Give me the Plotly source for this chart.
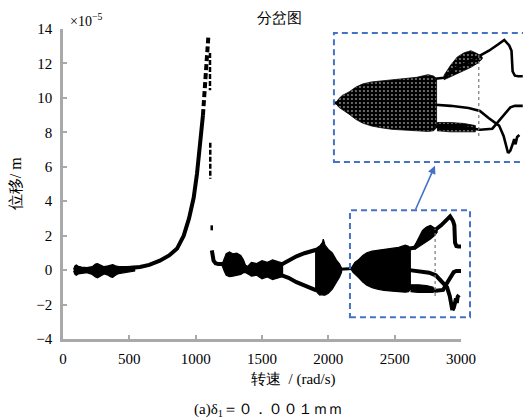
import plotly.graph_objects as go

# ---------------- data: rotor speed (rad/s) vs displacement (x1e-5 m) ----------------
# primary resonance branch (sweep up to the jump)
RES_OMEGA = [90, 200, 300, 400, 500, 580, 650, 730, 800, 860, 910, 950, 985, 1010, 1035, 1055]
RES_DISP = [0.0, 0.02, 0.05, 0.08, 0.12, 0.18, 0.3, 0.55, 0.85, 1.25, 2.0, 3.0, 4.2, 5.6, 7.3, 9.0]
PEAK_OMEGA = [1055, 1070, 1082, 1090, 1095]
PEAK_DISP = [9.0, 10.5, 12.0, 13.0, 13.5]

# scattered points left by the jump-down
JUMP_OMEGA = [1108, 1110, 1121]
JUMP_TOP = [12.6, 7.4, 2.6]
JUMP_BOTTOM = [10.45, 5.3, 2.2]

# low-speed band (sub-harmonic spread)
LOW_OMEGA = [80, 90, 100, 115, 140, 180, 220, 245, 260, 280, 310, 340, 360, 375, 395, 420, 470, 540]
LOW_UP = [0.05, 0.25, 0.3, 0.22, 0.18, 0.15, 0.2, 0.35, 0.38, 0.3, 0.2, 0.25, 0.3, 0.32, 0.25, 0.2, 0.2, 0.22]
LOW_LO = [-0.05, -0.25, -0.3, -0.22, -0.18, -0.15, -0.25, -0.4, -0.45, -0.35, -0.22, -0.3, -0.4, -0.42, -0.3, -0.2, -0.12, -0.05]

# branch after the jump
DROP_OMEGA = [1122, 1126, 1135, 1150, 1170, 1205]
DROP_DISP = [1.15, 0.8, 0.55, 0.4, 0.35, 0.35]

BUBBLE_OMEGA = [1200, 1215, 1230, 1255, 1280, 1310, 1340, 1360, 1375, 1392]
BUBBLE_UP = [0.35, 0.7, 0.95, 1.05, 0.95, 0.98, 0.85, 0.6, 0.3, 0.2]
BUBBLE_LO = [0.25, -0.05, -0.3, -0.38, -0.35, -0.32, -0.25, -0.15, -0.15, -0.2]

NECK_OMEGA = [1390, 1420, 1460, 1500, 1540, 1580, 1620, 1655]
NECK_UP = [0.2, 0.45, 0.38, 0.55, 0.45, 0.6, 0.5, 0.42]
NECK_LO = [-0.2, -0.35, -0.3, -0.5, -0.4, -0.55, -0.45, -0.38]

# period-2 window
P2_OMEGA = [1640, 1700, 1760, 1820, 1870, 1910]
P2_UPPER = [0.3, 0.55, 0.8, 0.98, 1.12, 1.18]
P2_LOWER = [-0.28, -0.45, -0.7, -0.9, -1.05, -1.18]

CHAOS_OMEGA = [1900, 1915, 1935, 1955, 1962, 1975, 2000, 2030, 2060, 2085, 2100]
CHAOS_UP = [1.15, 1.3, 1.4, 1.6, 1.8, 1.45, 1.2, 1.0, 0.6, 0.35, 0.12]
CHAOS_LO = [-1.1, -1.3, -1.45, -1.42, -1.45, -1.45, -1.35, -1.1, -0.75, -0.4, -0.12]

LINK_OMEGA = [2090, 2185]
LINK_DISP = [0.05, 0.1]

# high-speed chaotic region
BULB_OMEGA = [2172, 2185, 2200, 2230, 2260, 2290, 2330, 2370, 2420, 2480, 2530, 2580, 2605, 2618]
BULB_UP = [0.1, 0.3, 0.45, 0.62, 0.85, 1.0, 1.1, 1.15, 1.2, 1.27, 1.32, 1.45, 1.38, 1.25]
BULB_LO = [0.05, -0.12, -0.25, -0.45, -0.7, -0.88, -1.02, -1.1, -1.18, -1.22, -1.25, -1.28, -1.25, -1.1]

UB_OMEGA = [2612, 2650, 2700, 2760, 2800, 2850, 2890, 2918, 2940, 2950, 2955, 2965, 2980, 3000]
UB_DISP = [1.25, 1.3, 1.75, 2.05, 2.3, 2.6, 2.9, 3.12, 2.85, 2.6, 1.6, 1.4, 1.37, 1.37]
UC_OMEGA = [2650, 2680, 2710, 2740, 2770, 2800, 2820]
UC_UP = [1.4, 1.9, 2.3, 2.5, 2.6, 2.45, 2.3]
UC_LO = [1.2, 1.35, 1.5, 1.65, 1.8, 2.0, 2.2]

MB_OMEGA = [2612, 2680, 2760, 2810, 2850, 2895, 2915, 2928, 2935]
MB_DISP = [0.0, -0.05, -0.15, -0.3, -0.65, -1.0, -1.5, -2.0, -2.33]
LB_OMEGA = [2612, 2700, 2760, 2810, 2865, 2895, 2925, 2945, 2965, 3000]
LB_DISP = [-1.05, -1.05, -1.1, -1.2, -1.15, -0.75, -0.4, -0.12, -0.05, -0.05]
LC_OMEGA = [2620, 2680, 2740, 2790]
LC_UP = [-0.85, -0.85, -0.9, -1.0]
LC_LO = [-1.25, -1.3, -1.3, -1.3]
BL_OMEGA = [2935, 2945, 2955, 2962, 2968, 2975, 2985]
BL_DISP = [-2.33, -2.2, -1.9, -1.65, -1.9, -1.55, -1.45]

COL_OMEGA = 2805
COL_RANGE = [-1.5, 2.4]

# magnified window
ZOOM_OMEGA = [2163, 3068]
ZOOM_DISP = [-2.73, 3.48]

X_TICKS = [0, 500, 1000, 1500, 2000, 2500, 3000]
Y_TICKS = [-4, -2, 0, 2, 4, 6, 8, 10, 12, 14]

BLUE = "#4472C4"
AXIS_GREY = "#a9a9a9"
SERIF = "Times New Roman"

X_DOMAIN = [0, 0.8652]
X_RANGE = [0, 3000]
Y_RANGE = [-4, 14]
INSET_X_DOMAIN = [0.589, 1.0]
INSET_Y_DOMAIN = [0.571, 0.987]
INSET_X_RANGE = [2163, 3001]
INSET_Y_RANGE = [-2.75, 3.45]


def band(omega, up, lo):
    return list(omega) + list(omega[::-1]), list(up) + list(lo[::-1])


def to_paper(w, v):
    px = X_DOMAIN[0] + (w - X_RANGE[0]) / (X_RANGE[1] - X_RANGE[0]) * (X_DOMAIN[1] - X_DOMAIN[0])
    py = (v - Y_RANGE[0]) / (Y_RANGE[1] - Y_RANGE[0])
    return px, py


fig = go.Figure()


def add_diagram(xa, ya, inset):
    lw = 2.6 if inset else 4

    def add_band(omega, up, lo):
        xs, ys = band(omega, up, lo)
        kw = dict(x=xs, y=ys, xaxis=xa, yaxis=ya, mode="lines", fill="toself",
                  line=dict(color="black", width=0.8 if inset else 1.2),
                  hoverinfo="skip", showlegend=False)
        if inset:
            kw["fillcolor"] = "black"
            kw["fillpattern"] = dict(shape=".", fgcolor="white", bgcolor="black",
                                     size=4, solidity=0.22)
        else:
            kw["fillcolor"] = "black"
        fig.add_trace(go.Scatter(**kw))

    def add_line(omega, disp, width=lw, dash="solid", color="black"):
        fig.add_trace(go.Scatter(x=omega, y=disp, xaxis=xa, yaxis=ya, mode="lines",
                                 line=dict(color=color, width=width, dash=dash),
                                 hoverinfo="skip", showlegend=False))

    if not inset:
        add_band(LOW_OMEGA, LOW_UP, LOW_LO)
        add_line(RES_OMEGA, RES_DISP)
        add_line(PEAK_OMEGA, PEAK_DISP, dash="6px,3px")
        jx, jy = [], []
        for w, t, b in zip(JUMP_OMEGA, JUMP_TOP, JUMP_BOTTOM):
            jx += [w, w, None]
            jy += [t, b, None]
        add_line(jx, jy, width=2.5, dash="5px,2px")
        add_line(DROP_OMEGA, DROP_DISP)
        add_band(BUBBLE_OMEGA, BUBBLE_UP, BUBBLE_LO)
        add_band(NECK_OMEGA, NECK_UP, NECK_LO)
        add_line(P2_OMEGA, P2_UPPER)
        add_line(P2_OMEGA, P2_LOWER)
        add_band(CHAOS_OMEGA, CHAOS_UP, CHAOS_LO)
        add_line(LINK_OMEGA, LINK_DISP, width=3)

    add_band(BULB_OMEGA, BULB_UP, BULB_LO)
    add_band(UC_OMEGA, UC_UP, UC_LO)
    add_band(LC_OMEGA, LC_UP, LC_LO)
    add_line(UB_OMEGA, UB_DISP)
    add_line(MB_OMEGA, MB_DISP)
    add_line(LB_OMEGA, LB_DISP)
    add_line(BL_OMEGA, BL_DISP)
    add_line([COL_OMEGA, COL_OMEGA], COL_RANGE, width=1.2, dash="dot", color="#777777")
    if inset:
        add_line(LINK_OMEGA, LINK_DISP, width=3)


add_diagram("x", "y", inset=False)
add_diagram("x2", "y2", inset=True)

axis_common = dict(showline=True, linecolor=AXIS_GREY, linewidth=2.5, ticks="inside",
                   ticklen=4, tickwidth=1.5, tickcolor=AXIS_GREY, showgrid=False,
                   zeroline=False, mirror=False, automargin=False,
                   tickfont=dict(family=SERIF, size=15, color="black"))

fig.update_layout(
    width=523, height=420,
    margin=dict(l=63, r=0, t=29, b=81, autoexpand=False),
    paper_bgcolor="white", plot_bgcolor="white",
    font=dict(family=SERIF, color="black"),
    xaxis=dict(domain=X_DOMAIN, range=X_RANGE, tickvals=X_TICKS, ticklabelstandoff=4, **axis_common),
    yaxis=dict(domain=[0, 1], range=Y_RANGE, tickvals=Y_TICKS, ticklabelstandoff=5, **axis_common),
    xaxis2=dict(domain=INSET_X_DOMAIN, range=INSET_X_RANGE, anchor="y2", visible=False,
                automargin=False),
    yaxis2=dict(domain=INSET_Y_DOMAIN, range=INSET_Y_RANGE, anchor="x2", visible=False,
                automargin=False),
)

# dashed frame around the magnified window and around the inset
zx0, zy0 = to_paper(ZOOM_OMEGA[0], ZOOM_DISP[0])
zx1, zy1 = to_paper(ZOOM_OMEGA[1], ZOOM_DISP[1])
fig.add_shape(type="rect", xref="paper", yref="paper", x0=zx0, y0=zy0, x1=zx1, y1=zy1,
              line=dict(color=BLUE, width=2, dash="6px,4px"))
fig.add_shape(type="rect", xref="paper", yref="paper",
              x0=INSET_X_DOMAIN[0], y0=INSET_Y_DOMAIN[0], x1=1.04, y1=INSET_Y_DOMAIN[1],
              line=dict(color=BLUE, width=2, dash="6px,4px"))

# arrow from the window up to the inset
fig.add_annotation(xref="paper", yref="paper", x=0.8087, y=INSET_Y_DOMAIN[0] - 0.012,
                   ax=-20, ay=45, text="", showarrow=True, arrowhead=2, arrowsize=1,
                   arrowwidth=1.6, arrowcolor=BLUE, standoff=0, startstandoff=0)

fig.add_annotation(xref="paper", yref="paper", x=0.4717, y=1.036, text="分岔图",
                   showarrow=False, font=dict(family=SERIF, size=15, color="black"),
                   xanchor="center", yanchor="middle")
fig.add_annotation(xref="paper", yref="paper", x=0.011, y=1.03, text="×10<sup>−5</sup>",
                   showarrow=False, font=dict(family=SERIF, size=14, color="black"),
                   xanchor="left", yanchor="middle")
fig.add_annotation(xref="paper", yref="paper", x=-0.104, y=0.5, text="位移/ m", textangle=-90,
                   showarrow=False, font=dict(family=SERIF, size=16, color="black"),
                   xanchor="center", yanchor="middle")
fig.add_annotation(xref="paper", yref="paper", x=0.5, y=-0.132, text="转速  / (rad/s)",
                   showarrow=False, font=dict(family=SERIF, size=15, color="black"),
                   xanchor="center", yanchor="middle")
fig.add_annotation(xref="paper", yref="paper", x=0.447, y=-0.229,
                   text="(a)δ<sub>1</sub>＝０．００１ｍｍ",
                   showarrow=False, font=dict(family=SERIF, size=15, color="black"),
                   xanchor="center", yanchor="middle")

fig.write_html("out.html")
